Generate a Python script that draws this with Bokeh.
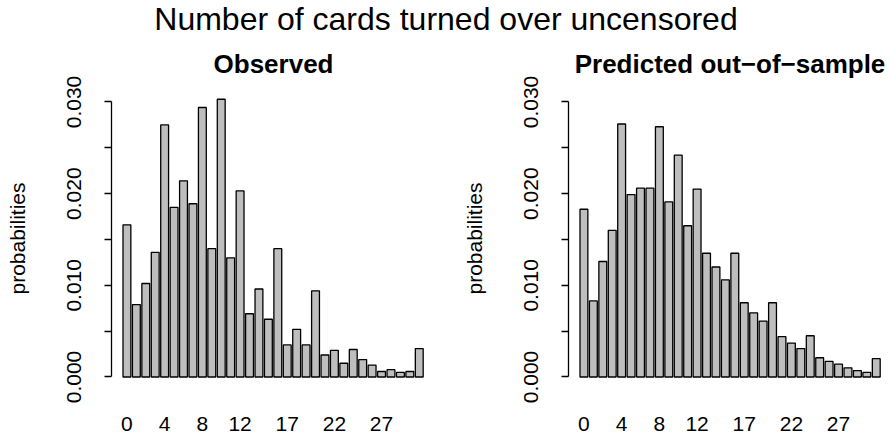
from bokeh.plotting import figure
from bokeh.models import Range1d, FixedTicker, PrintfTickFormatter, Label
from bokeh.layouts import column, row
from bokeh.embed import file_html
from bokeh.resources import INLINE

# ---- data -----------------------------------------------------------
cards = [0, 1, 2, 3, 4, 5, 6, 7, 8, 9, 10, 11, 12, 13, 14, 15,
         16, 17, 18, 19, 20, 21, 22, 23, 24, 25, 26, 27, 28, 29, 30, 31]
observed = [0.0166, 0.0079, 0.0102, 0.0136, 0.0275, 0.0185, 0.0214, 0.0189,
            0.0294, 0.0140, 0.0303, 0.0130, 0.0203, 0.0069, 0.0096, 0.0063,
            0.0140, 0.0035, 0.0052, 0.0035, 0.0094, 0.0024, 0.0029, 0.0015,
            0.0030, 0.0019, 0.0013, 0.0006, 0.0008, 0.0005, 0.0006, 0.0031]
predicted = [0.0183, 0.0083, 0.0126, 0.0160, 0.0276, 0.0199, 0.0206, 0.0206,
             0.0273, 0.0191, 0.0242, 0.0165, 0.0205, 0.0135, 0.0120, 0.0106,
             0.0135, 0.0081, 0.0070, 0.0061, 0.0081, 0.0044, 0.0037, 0.0031,
             0.0045, 0.0021, 0.0017, 0.0014, 0.0010, 0.0007, 0.0005, 0.0020]
x_tick_labels = [0, 4, 8, 12, 17, 22, 27]
y_major = [0.0, 0.01, 0.02, 0.03]
y_minor = [0.005, 0.015, 0.025]

main_title = "Number of cards turned over uncensored"
sub_titles = ["Observed", "Predicted out\u2212of\u2212sample"]
y_label = "probabilities"

FONT = "Liberation Sans"
SLOT_PX = 9.43
Y0, Y1 = -0.001255, 0.03147
TITLE_H = 36


def panel(values, title, width, border_left, border_right, frame_w):
    x0 = -1.636
    p = figure(width=width, height=434 - TITLE_H, output_backend="svg", toolbar_location=None,
               x_range=Range1d(x0, x0 + frame_w / SLOT_PX), y_range=Range1d(Y0, Y1),
               min_border_left=border_left, min_border_right=border_right,
               min_border_top=83 - TITLE_H, min_border_bottom=46)
    p.outline_line_color = None
    p.grid.visible = False
    p.background_fill_color = "white"
    p.border_fill_color = "white"

    p.vbar(x=cards, top=values, bottom=0, width=1 / 1.2,
           fill_color="#BEBEBE", line_color="black", line_width=1.3)

    p.title.text = title
    p.title.align = "center"
    p.title.text_font = FONT
    p.title.text_font_size = "26px"
    p.title.text_font_style = "bold"
    p.title.text_color = "black"
    p.title.standoff = 20

    xa = p.xaxis[0]
    xa.ticker = FixedTicker(ticks=x_tick_labels, minor_ticks=[])
    xa.axis_line_color = None
    xa.major_tick_line_color = None
    xa.minor_tick_line_color = None
    xa.major_tick_out = 0
    xa.major_tick_in = 0
    xa.major_label_standoff = 28
    xa.major_label_text_font = FONT
    xa.major_label_text_font_size = "21px"
    xa.major_label_text_color = "black"

    ya = p.yaxis[0]
    ya.bounds = (0, 0.03)
    ya.ticker = FixedTicker(ticks=y_major, minor_ticks=y_minor)
    ya.formatter = PrintfTickFormatter(format="%.3f")
    ya.axis_line_color = "black"
    ya.axis_line_width = 1.3
    ya.major_tick_line_color = "black"
    ya.major_tick_line_width = 1.3
    ya.minor_tick_line_color = "black"
    ya.minor_tick_line_width = 1.3
    ya.major_tick_out = 7
    ya.major_tick_in = 0
    ya.minor_tick_out = 7
    ya.minor_tick_in = 0
    ya.major_label_orientation = "vertical"
    ya.major_label_standoff = 23
    ya.major_label_text_font = FONT
    ya.major_label_text_font_size = "21px"
    ya.major_label_text_color = "black"
    ya.axis_label = y_label
    ya.axis_label_text_font = FONT
    ya.axis_label_text_font_size = "21px"
    ya.axis_label_text_font_style = "normal"
    ya.axis_label_text_color = "black"
    ya.axis_label_standoff = 36
    return p


p1 = panel(observed, sub_titles[0], 450, 111, 15, 324)
p2 = panel(predicted, sub_titles[1], 441, 118, 0, 323)

t = figure(width=891, height=TITLE_H, output_backend="svg", toolbar_location=None,
           x_range=Range1d(0, 891), y_range=Range1d(0, TITLE_H), title_location=None,
           min_border=0, x_axis_location=None, y_axis_location=None)
t.outline_line_color = None
t.grid.visible = False
t.add_layout(Label(x=445.5, y=TITLE_H / 2, text=main_title, text_align="center",
                   text_baseline="middle", text_font=FONT,
                   text_font_size="32px", text_color="black"))

layout = column(t, row(p1, p2))
open("out.html", "w").write(file_html(layout, INLINE))
